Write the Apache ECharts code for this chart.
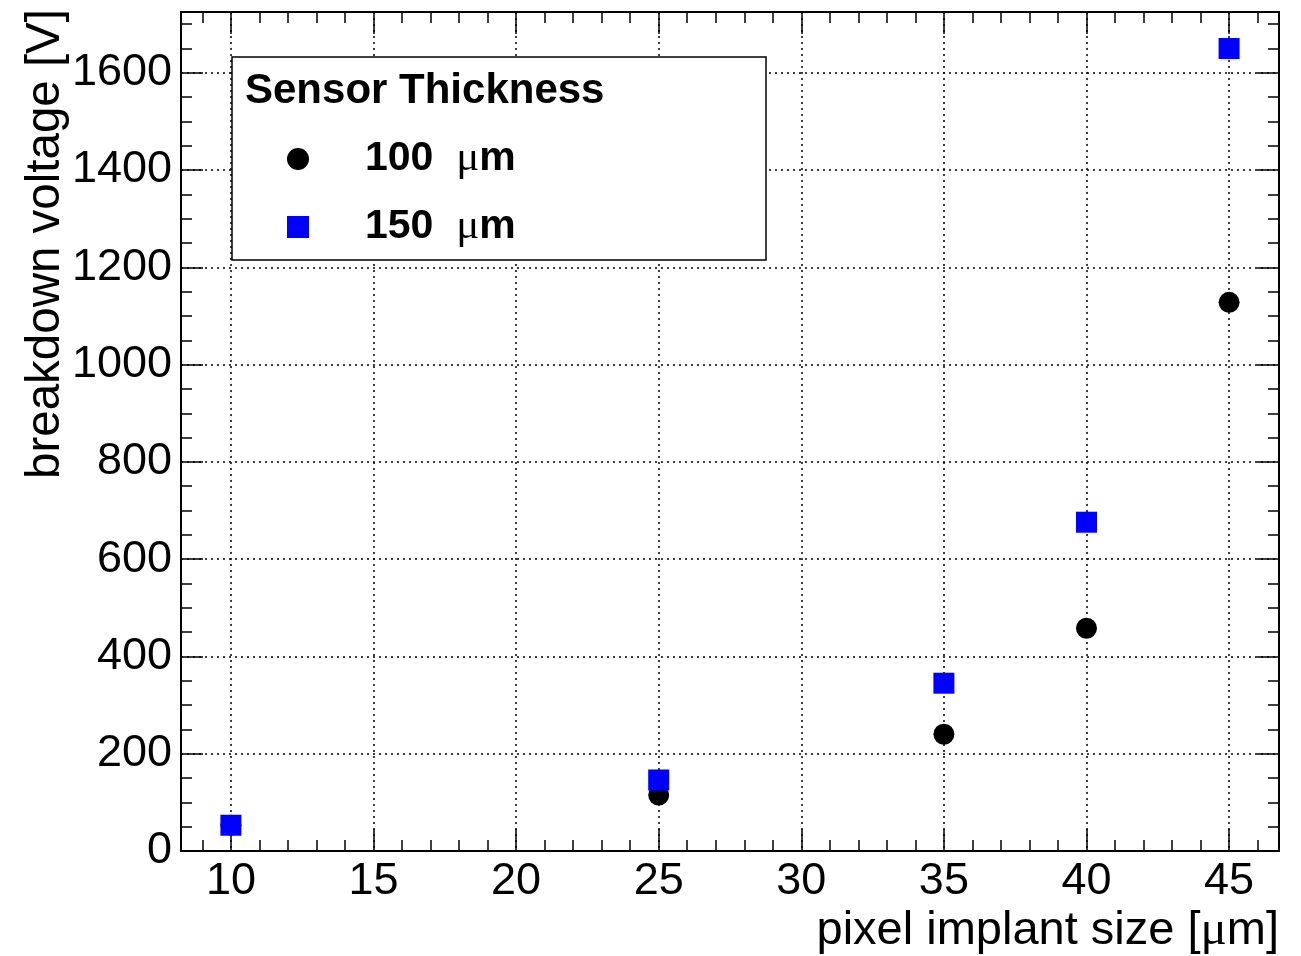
<!DOCTYPE html>
<html>
<head>
<meta charset="utf-8">
<script src="https://cdn.jsdelivr.net/npm/echarts@6/dist/echarts.min.js"></script>
<style>
  html, body { margin: 0; padding: 0; background: #fff; }
  #chart { width: 1301px; height: 956px; }
</style>
</head>
<body>
<div id="chart"></div>
<script>
// Breakdown voltage vs. pixel implant size, for two sensor thicknesses
const implantSize100 = [10, 25, 35, 40, 45];
const voltage100     = [53, 115, 240, 458, 1128];
const implantSize150 = [10, 25, 35, 40, 45];
const voltage150     = [53, 146, 345, 676, 1650];

const seriesNames = ['100  μm', '150  μm'];

// Axis ticks
const xMajorTicks = [10, 15, 20, 25, 30, 35, 40, 45];
const xMinorTicks = [9, 11, 12, 13, 14, 16, 17, 18, 19, 21, 22, 23, 24, 26, 27, 28, 29,
                     31, 32, 33, 34, 36, 37, 38, 39, 41, 42, 43, 44, 46];
const yMajorTicks = [0, 200, 400, 600, 800, 1000, 1200, 1400, 1600];
const yMinorTicks = [50, 100, 150, 250, 300, 350, 450, 500, 550, 650, 700, 750, 850, 900, 950,
                     1050, 1100, 1150, 1250, 1300, 1350, 1450, 1500, 1550, 1650, 1700];

const X_RANGE = [8.25, 46.75];
const Y_RANGE = [0, 1725];
const FONT = '"Liberation Sans", Arial, Helvetica, sans-serif';
const SERIF = '"Liberation Serif", "DejaVu Serif", serif';

const gridLine = { show: true, lineStyle: { color: '#000', width: 1.5, type: [2, 4] } };

function xAxisDef(position, ticks, tickLen, primary) {
  return {
    type: 'value', position: position, min: X_RANGE[0], max: X_RANGE[1], z: 0,
    axisLine: { show: primary, onZero: false, lineStyle: { color: '#000', width: 2 } },
    axisTick: { show: true, inside: true, length: tickLen, customValues: ticks,
                lineStyle: { color: '#000', width: 1.5 } },
    axisLabel: (primary && position === 'bottom')
      ? { show: true, customValues: ticks, color: '#000', fontFamily: FONT, fontSize: 45, margin: 8 }
      : { show: false },
    splitLine: (primary && position === 'bottom') ? gridLine : { show: false }
  };
}

function yAxisDef(position, ticks, tickLen, primary) {
  return {
    type: 'value', position: position, min: Y_RANGE[0], max: Y_RANGE[1], z: 0,
    axisLine: { show: primary, onZero: false, lineStyle: { color: '#000', width: 2 } },
    axisTick: { show: true, inside: true, length: tickLen, customValues: ticks,
                lineStyle: { color: '#000', width: 1.5 } },
    axisLabel: (primary && position === 'left')
      ? { show: true, customValues: ticks, color: '#000', fontFamily: FONT, fontSize: 45, margin: 9,
          formatter: v => String(v) }
      : { show: false },
    splitLine: (primary && position === 'left') ? gridLine : { show: false }
  };
}

const chart = echarts.init(document.getElementById('chart'), null, { renderer: 'canvas' });

chart.setOption({
  animation: false,
  backgroundColor: '#fff',
  grid: { left: 181, right: 22, top: 12, bottom: 105, containLabel: false },
  xAxis: [
    xAxisDef('bottom', xMajorTicks, 22, true),
    xAxisDef('bottom', xMinorTicks, 11, false),
    xAxisDef('top', xMajorTicks, 22, true),
    xAxisDef('top', xMinorTicks, 11, false)
  ],
  yAxis: [
    yAxisDef('left', yMajorTicks, 22, true),
    yAxisDef('left', yMinorTicks, 11, false),
    yAxisDef('right', yMajorTicks, 22, true),
    yAxisDef('right', yMinorTicks, 11, false)
  ],
  legend: {
    data: seriesNames,
    orient: 'vertical',
    left: 287, top: 136,
    padding: 0,
    itemWidth: 22, itemHeight: 22, itemGap: 22,
    z: 20,
    formatter: name => {
      const parts = name.split('μ');
      return parts[0] + '{mu|μ}' + parts[1];
    },
    textStyle: {
      color: '#000', fontFamily: FONT, fontSize: 41, fontWeight: 'bold',
      lineHeight: 46, padding: [0, 0, 0, 51],
      rich: { mu: { fontFamily: SERIF, fontSize: 43, fontWeight: 'normal', color: '#000', lineHeight: 46 } }
    }
  },
  graphic: [
    { type: 'rect', z: 10, shape: { x: 232, y: 57, width: 534, height: 203 },
      style: { fill: '#fff', stroke: '#000', lineWidth: 1.5 } },
    { type: 'text', z: 20, x: 245, y: 91,
      style: { text: 'Sensor Thickness', fill: '#000', font: 'bold 42px ' + FONT,
               textAlign: 'left', textVerticalAlign: 'middle' } },
    { type: 'text', z: 20, x: 1279, y: 931,
      style: { text: 'pixel implant size [{mu|μ}m]', fill: '#000', font: '47px ' + FONT,
               textAlign: 'right', textVerticalAlign: 'middle',
               rich: { mu: { fontFamily: SERIF, fontSize: 49, fill: '#000' } } } },
    { type: 'text', z: 20, x: 46, y: 9, rotation: Math.PI / 2,
      style: { text: 'breakdown voltage [V]', fill: '#000', font: '47.5px ' + FONT,
               textAlign: 'right', textVerticalAlign: 'middle' } }
  ],
  series: [
    {
      name: seriesNames[0], type: 'scatter', symbol: 'circle', symbolSize: 21, z: 5,
      xAxisIndex: 0, yAxisIndex: 0,
      itemStyle: { color: '#000', opacity: 1 },
      data: implantSize100.map((x, i) => [x, voltage100[i]])
    },
    {
      name: seriesNames[1], type: 'scatter', symbol: 'rect', symbolSize: 21, z: 6,
      xAxisIndex: 0, yAxisIndex: 0,
      itemStyle: { color: '#0000ff', opacity: 1 },
      data: implantSize150.map((x, i) => [x, voltage150[i]])
    }
  ]
});
</script>
</body>
</html>
